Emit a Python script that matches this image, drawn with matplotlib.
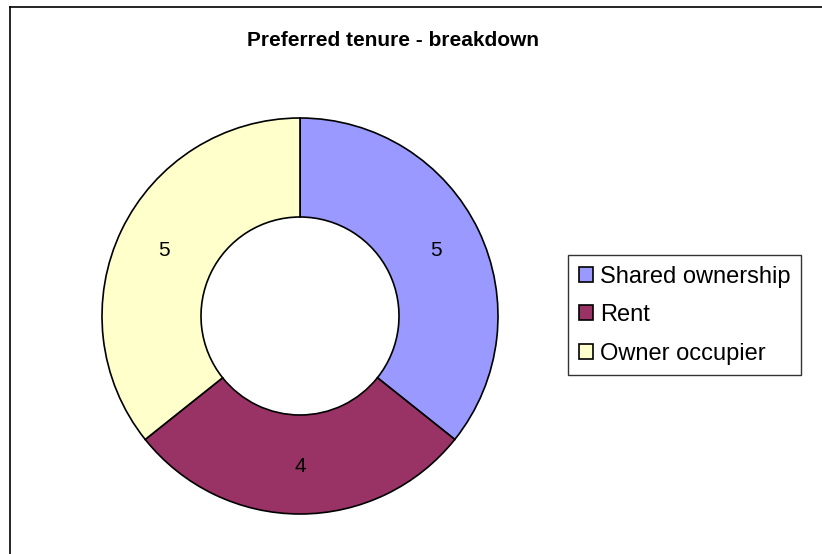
import matplotlib.pyplot as plt
from matplotlib.lines import Line2D

# data
categories = ['Shared ownership', 'Rent', 'Owner occupier']
values = [5, 4, 5]
colours = ['#9999FF', '#993366', '#FFFFCC']

plt.rcParams['font.family'] = ['Liberation Sans', 'DejaVu Sans']

W, H = 822, 554
fig = plt.figure(figsize=(W / 100, H / 100), dpi=100)

# donut centre / radius in pixels
cx, cy, r = 300, 316, 198
ax = fig.add_axes([(cx - r) / W, (H - cy - r) / H, 2 * r / W, 2 * r / H])

total = sum(values)
wedges, texts, autotexts = ax.pie(
    values, colors=colours, startangle=90, counterclock=False,
    radius=1, wedgeprops=dict(width=0.5, edgecolor='black', linewidth=1.2),
    autopct=lambda p: '%d' % round(p * total / 100), pctdistance=0.76,
    textprops=dict(fontsize=15, color='black'))
for w in wedges:
    w.set_clip_on(False)
ax.set_xlim(-1, 1)
ax.set_ylim(-1, 1)
ax.set_aspect('equal')
ax.axis('off')

fig.text(393 / W, 1 - 40 / H, 'Preferred tenure - breakdown',
         ha='center', va='center', fontsize=15, fontweight='bold')

leg = fig.legend(wedges, categories, loc='upper left',
                 bbox_to_anchor=(568 / W, 1 - 255 / H),
                 fontsize=17, frameon=True, fancybox=False,
                 edgecolor='black', handlelength=0.6, handleheight=0.6,
                 handletextpad=0.3, labelspacing=0.7, borderpad=0.45,
                 borderaxespad=0)
leg.get_frame().set_linewidth(1.0)

# chart border (runs off the right and bottom edge)
fig.add_artist(Line2D([9.5 / W, 9.5 / W], [0, 1 - 6.5 / H],
                      transform=fig.transFigure, color='black', lw=1.2))
fig.add_artist(Line2D([9.5 / W, 1], [1 - 6.5 / H, 1 - 6.5 / H],
                      transform=fig.transFigure, color='black', lw=1.2))

fig.savefig('out.png', dpi=100)
